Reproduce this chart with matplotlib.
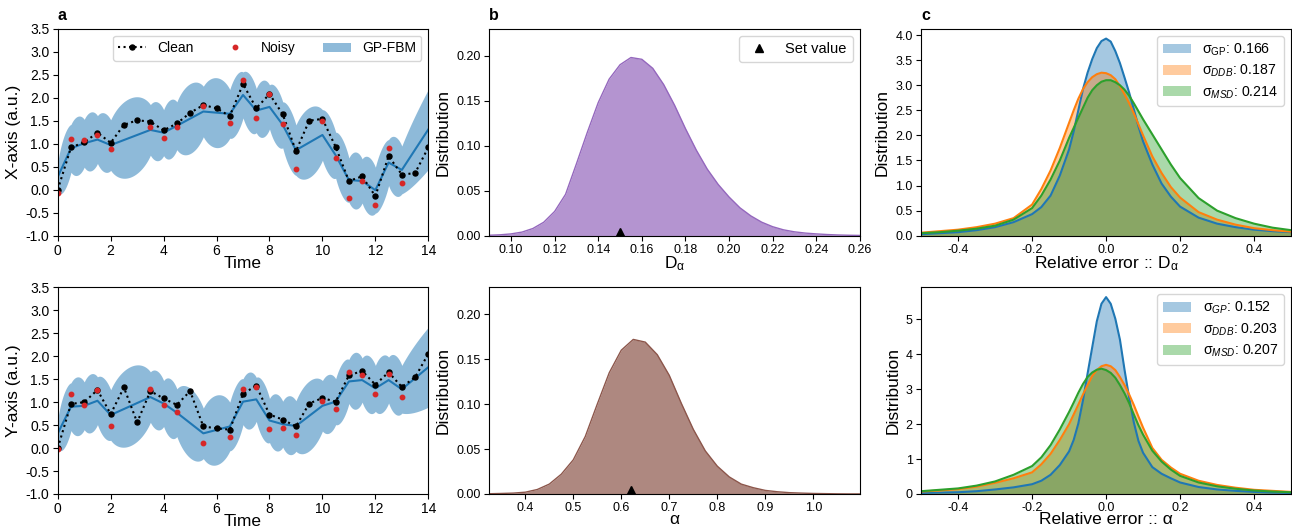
import numpy as np
import matplotlib
matplotlib.use("Agg")
import matplotlib.pyplot as plt
import matplotlib.transforms as mtransforms
from matplotlib.ticker import FormatStrFormatter, MultipleLocator
from matplotlib.patches import Patch

plt.rcParams['font.family'] = ['Liberation Sans', 'DejaVu Sans']
plt.rcParams['mathtext.fontset'] = 'custom'
plt.rcParams['mathtext.rm'] = 'Liberation Sans'
plt.rcParams['mathtext.it'] = 'Liberation Sans:italic'
plt.rcParams['mathtext.bf'] = 'Liberation Sans:bold'

# ---------------- panel a: trajectories ----------------
time_clean = [0, 0.5, 1, 1.5, 2, 2.5, 3, 3.5, 4, 4.5, 5, 5.5, 6, 6.5, 7,
              7.5, 8, 8.5, 9, 9.5, 10, 10.5, 11, 11.5, 12, 12.5, 13, 13.5, 14]
clean_x = [0.00, 0.92, 1.03, 1.24, 1.02, 1.41, 1.51, 1.48, 1.29, 1.44, 1.67, 1.84, 1.77, 1.60, 2.30,
           1.77, 2.08, 1.64, 0.84, 1.50, 1.54, 0.93, 0.19, 0.29, -0.14, 0.73, 0.33, 0.36, 0.92]
clean_y = [0.00, 0.96, 1.00, 1.265, 0.74, 1.32, 0.56, 1.24, 1.08, 0.94, 1.24, 0.47, 0.43, 0.40, 1.18,
           1.36, 0.73, 0.62, 0.47, 0.97, 1.09, 1.01, 1.58, 1.68, 1.38, 1.65, 1.33, 1.54, 2.05]

time_noisy = [0, 0.5, 1, 1.5, 2, 3.5, 4, 4.5, 5.5, 6.5, 7, 7.5, 8, 8.5, 9, 10, 10.5, 11, 11.5, 12, 12.5, 13]
noisy_x = [-0.07, 1.10, 1.08, 1.20, 0.88, 1.37, 1.12, 1.36, 1.83, 1.45, 2.38, 1.56, 2.09, 1.43, 0.46,
           1.50, 0.70, -0.17, 0.20, -0.33, 0.91, 0.145]
noisy_y = [-0.01, 1.18, 0.93, 1.27, 0.48, 1.29, 0.93, 0.78, 0.12, 0.23, 1.29, 1.32, 0.42, 0.44, 0.28,
           1.03, 0.86, 1.66, 1.60, 1.18, 1.61, 1.11]

# GP-FBM prediction knots (noisy times + end of prediction range)
time_gp = [0, 0.5, 1, 1.5, 2, 3.5, 4, 4.5, 5.5, 6.5, 7, 7.5, 8, 8.5, 9, 10, 10.5, 11, 11.5, 12, 12.5, 13, 14]
gp_mean_x = [0.28, 0.90, 1.01, 1.09, 0.97, 1.30, 1.24, 1.39, 1.70, 1.65, 2.06, 1.72, 1.80, 1.41, 0.86,
             1.19, 0.75, 0.21, 0.19, -0.01, 0.59, 0.43, 1.31]
gp_mean_y = [0.32, 0.90, 0.92, 1.03, 0.72, 1.11, 0.97, 0.77, 0.32, 0.47, 1.01, 1.06, 0.60, 0.52, 0.48,
             0.92, 1.01, 1.45, 1.48, 1.30, 1.48, 1.28, 1.76]
# band half-width at the knots and at the middle of each interval
gp_halfwidth = [0.30, 0.52, 0.52, 0.52, 0.55, 0.55, 0.50, 0.52, 0.55, 0.53, 0.50, 0.48, 0.48, 0.50, 0.55,
                0.55, 0.50, 0.48, 0.48, 0.50, 0.50, 0.52, 0.87]
gp_bulge = [0.60, 0.64, 0.64, 0.64, 0.86, 0.64, 0.64, 0.76, 0.76, 0.64, 0.62, 0.62, 0.62, 0.64, 0.76,
            0.64, 0.62, 0.62, 0.62, 0.62, 0.64, 0.74]

# ---------------- panel b: posterior distributions ----------------
d_grid = [0.090, 0.095, 0.100, 0.105, 0.110, 0.115, 0.120, 0.125, 0.130, 0.135, 0.140, 0.145,
          0.150, 0.155, 0.160, 0.165, 0.170, 0.175, 0.180, 0.185, 0.190, 0.195, 0.200, 0.205,
          0.210, 0.215, 0.220, 0.225, 0.230, 0.235, 0.240, 0.245, 0.250, 0.255, 0.260]
d_dist = [0.0005, 0.001, 0.002, 0.004, 0.008, 0.015, 0.027, 0.046, 0.080, 0.115, 0.148, 0.174,
          0.190, 0.198, 0.196, 0.186, 0.168, 0.145, 0.119, 0.095, 0.074, 0.057, 0.043, 0.031,
          0.022, 0.015, 0.010, 0.0065, 0.0043, 0.0029, 0.002, 0.0013, 0.0008, 0.0005, 0.0003]
d_set = 0.15

a_grid = [0.325, 0.350, 0.375, 0.400, 0.425, 0.450, 0.475, 0.500, 0.525, 0.550, 0.575, 0.600,
          0.625, 0.650, 0.675, 0.700, 0.725, 0.750, 0.775, 0.800, 0.825, 0.850, 0.875, 0.900,
          0.925, 0.950, 0.975, 1.000, 1.025, 1.050, 1.075, 1.100]
a_dist = [0.0003, 0.0006, 0.001, 0.002, 0.005, 0.011, 0.022, 0.038, 0.064, 0.100, 0.135, 0.160,
          0.172, 0.169, 0.155, 0.132, 0.101, 0.072, 0.048, 0.031, 0.019, 0.011, 0.007, 0.004,
          0.0025, 0.0015, 0.001, 0.0006, 0.0004, 0.0002, 0.0001, 0.0001]
a_set = 0.62

# ---------------- panel c: relative errors ----------------
err_grid = [-0.5, -0.45, -0.4, -0.35, -0.3, -0.25, -0.2, -0.175, -0.15, -0.125, -0.1, -0.0875,
            -0.075, -0.0625, -0.05, -0.0375, -0.025, -0.0125, 0.0, 0.0125, 0.025, 0.0375, 0.05,
            0.0625, 0.075, 0.0875, 0.1, 0.125, 0.15, 0.175, 0.2, 0.25, 0.3, 0.35, 0.4, 0.45, 0.5]
errD_gp = [0.03, 0.05, 0.07, 0.11, 0.17, 0.27, 0.43, 0.57, 0.80, 1.20, 1.72, 2.08,
           2.50, 2.92, 3.25, 3.52, 3.74, 3.88, 3.93, 3.87, 3.68, 3.44, 3.15,
           2.85, 2.52, 2.18, 1.88, 1.42, 1.04, 0.78, 0.58, 0.36, 0.24, 0.17, 0.12, 0.09, 0.07]
errD_ddb = [0.06, 0.09, 0.12, 0.17, 0.24, 0.35, 0.62, 0.93, 1.30, 1.75, 2.25, 2.50,
            2.73, 2.92, 3.06, 3.16, 3.22, 3.25, 3.24, 3.20, 3.12, 2.98, 2.82,
            2.64, 2.44, 2.22, 2.00, 1.58, 1.25, 0.97, 0.76, 0.47, 0.32, 0.22, 0.15, 0.11, 0.08]
errD_msd = [0.05, 0.07, 0.10, 0.14, 0.20, 0.32, 0.55, 0.80, 1.12, 1.50, 1.95, 2.15,
            2.35, 2.55, 2.75, 2.90, 3.00, 3.07, 3.10, 3.10, 3.06, 3.00, 2.91,
            2.79, 2.64, 2.48, 2.32, 2.02, 1.72, 1.42, 1.15, 0.75, 0.50, 0.35, 0.24, 0.16, 0.11]
errA_gp = [0.03, 0.04, 0.05, 0.08, 0.13, 0.19, 0.28, 0.38, 0.55, 0.83, 1.22, 1.55,
           2.02, 2.68, 3.45, 4.20, 4.95, 5.45, 5.64, 5.45, 5.02, 4.42, 3.55,
           2.75, 2.05, 1.52, 1.18, 0.77, 0.58, 0.45, 0.33, 0.20, 0.13, 0.09, 0.06, 0.04, 0.03]
errA_ddb = [0.07, 0.10, 0.14, 0.21, 0.32, 0.45, 0.62, 0.85, 1.15, 1.55, 2.00, 2.28,
            2.56, 2.85, 3.12, 3.38, 3.55, 3.66, 3.70, 3.66, 3.55, 3.35, 3.12,
            2.85, 2.55, 2.22, 1.90, 1.32, 0.98, 0.76, 0.58, 0.38, 0.26, 0.18, 0.12, 0.09, 0.06]
errA_msd = [0.08, 0.12, 0.16, 0.24, 0.36, 0.55, 0.80, 1.05, 1.40, 1.85, 2.35, 2.62,
            2.90, 3.15, 3.35, 3.48, 3.56, 3.59, 3.55, 3.47, 3.33, 3.12, 2.88,
            2.60, 2.28, 1.97, 1.70, 1.24, 0.93, 0.70, 0.52, 0.33, 0.22, 0.15, 0.10, 0.07, 0.05]
sigma_D = {'GP': 0.166, 'DDB': 0.187, 'MSD': 0.214}
sigma_A = {'GP': 0.152, 'DDB': 0.203, 'MSD': 0.207}

# ---------------- figure ----------------
TICK = 9
LAB = 12.5
fig = plt.figure(figsize=(12.92, 5.28), dpi=100)

W = 0.2868
axA1 = fig.add_axes([0.0447, 0.5536, W, 0.3920])
axA2 = fig.add_axes([0.0447, 0.0644, W, 0.3915])
axB1 = fig.add_axes([0.3787, 0.5536, W, 0.3920])
axB2 = fig.add_axes([0.3787, 0.0644, W, 0.3915])
axC1 = fig.add_axes([0.7129, 0.5536, 0.2864, 0.3920])
axC2 = fig.add_axes([0.7129, 0.0644, 0.2864, 0.3915])


def gp_band(ax, t, mean, hw, bulge, npts=60):
    tt, lo, hi = [], [], []
    for i in range(len(t) - 1):
        s = np.linspace(0, 1, npts)
        m = mean[i] + (mean[i + 1] - mean[i]) * s
        base = hw[i] + (hw[i + 1] - hw[i]) * s
        extra = max(bulge[i] ** 2 - ((hw[i] + hw[i + 1]) / 2) ** 2, 0.0)
        w = np.sqrt(base ** 2 + extra * 4 * s * (1 - s))
        tt.append(t[i] + (t[i + 1] - t[i]) * s)
        lo.append(m - w)
        hi.append(m + w)
    return ax.fill_between(np.concatenate(tt), np.concatenate(lo), np.concatenate(hi),
                           color='C0', alpha=0.5, lw=0)


for ax, clean, noisy, gmean, ylab in [(axA1, clean_x, noisy_x, gp_mean_x, 'X-axis (a.u.)'),
                                      (axA2, clean_y, noisy_y, gp_mean_y, 'Y-axis (a.u.)')]:
    gp_band(ax, time_gp, gmean, gp_halfwidth, gp_bulge)
    ax.plot(time_gp, gmean, color='C0', lw=1.5)
    lc, = ax.plot(time_clean, clean, ls=':', color='k', lw=1.5, marker='o', ms=3.6)
    ln, = ax.plot(time_noisy, noisy, ls='none', marker='o', color='C3', ms=3.2)
    ax.set_xlim(0, 14)
    ax.set_ylim(-1.0, 3.5)
    ax.set_xticks([0, 2, 4, 6, 8, 10, 12, 14])
    ax.set_yticks(np.arange(-1.0, 3.51, 0.5))
    ax.yaxis.set_major_formatter(FormatStrFormatter('%.1f'))
    ax.tick_params(labelsize=10, pad=2.5)
    ax.set_xlabel('Time', fontsize=LAB, labelpad=-1.5)
    ax.set_ylabel(ylab, fontsize=LAB, labelpad=3)
    if ax is axA1:
        ax.legend([lc, ln, Patch(facecolor='C0', alpha=0.5, lw=0)], ['Clean', 'Noisy', 'GP-FBM'],
                  ncol=3, loc='upper right', fontsize=10, columnspacing=2.0)

# panel b
for ax, grid, dist, col, setv, xlab in [(axB1, d_grid, d_dist, 'tab:purple', d_set, r'D$_{\mathregular{α}}$'),
                                        (axB2, a_grid, a_dist, 'tab:brown', a_set, 'α')]:
    ax.fill_between(grid, dist, color=col, alpha=0.7, lw=0)
    ax.plot(grid, dist, color=col, lw=1.0)
    trans = mtransforms.offset_copy(ax.transData, fig=fig, x=0, y=2.6, units='points')
    mk, = ax.plot([setv], [0], '^', color='k', ms=5.2, transform=trans, label='Set value')
    ax.set_ylim(0, 0.23)
    ax.set_yticks([0, 0.05, 0.10, 0.15, 0.20])
    ax.yaxis.set_major_formatter(FormatStrFormatter('%.2f'))
    ax.tick_params(labelsize=TICK, pad=2.5)
    ax.set_ylabel('Distribution', fontsize=LAB)
    ax.set_xlabel(xlab, fontsize=LAB, labelpad=-1.5)
    if ax is axB1:
        ax.legend(handles=[mk], loc='upper right', fontsize=10.5)
axB1.set_xlim(0.09, 0.26)
axB1.set_xticks([0.10, 0.12, 0.14, 0.16, 0.18, 0.20, 0.22, 0.24, 0.26])
axB1.xaxis.set_major_formatter(FormatStrFormatter('%.2f'))
axB2.set_xlim(0.325, 1.097)
axB2.set_xticks([0.4, 0.5, 0.6, 0.7, 0.8, 0.9, 1.0])
axB2.xaxis.set_major_formatter(FormatStrFormatter('%.1f'))

# panel c
for ax, curves, sig, xlab, gp_lab in [
        (axC1, [errD_gp, errD_ddb, errD_msd], sigma_D, r'Relative error :: D$_{\mathregular{α}}$',
         r'σ$_{\mathregular{GP}}$'),
        (axC2, [errA_gp, errA_ddb, errA_msd], sigma_A, 'Relative error :: α', r'σ$_{GP}$')]:
    labels = [gp_lab + ': %.3f' % sig['GP'],
              r'σ$_{DDB}$' + ': %.3f' % sig['DDB'],
              r'σ$_{MSD}$' + ': %.3f' % sig['MSD']]
    hs = []
    for vals, col, lab in zip(curves, ['C0', 'C1', 'C2'], labels):
        h = ax.fill_between(err_grid, vals, color=col, alpha=0.4, lw=0, label=lab)
        ax.plot(err_grid, vals, color=col, lw=1.5)
        hs.append(h)
    ax.set_xlim(-0.5, 0.5)
    ax.set_ylim(0, max(max(c) for c in curves) * 1.05)
    ax.set_xticks([-0.4, -0.2, 0.0, 0.2, 0.4])
    ax.xaxis.set_major_formatter(FormatStrFormatter('%.1f'))
    ax.tick_params(labelsize=TICK, pad=2.5)
    ax.set_xlabel(xlab, fontsize=LAB, labelpad=-1.5)
    ax.set_ylabel('Distribution', fontsize=LAB)
    ax.legend(handles=hs, loc='upper right', fontsize=10.2, labelspacing=0.35)
axC1.yaxis.set_major_locator(MultipleLocator(0.5))
axC1.yaxis.set_major_formatter(FormatStrFormatter('%.1f'))
axC2.yaxis.set_major_locator(MultipleLocator(1))

for ax, letter in [(axA1, 'a'), (axB1, 'b'), (axC1, 'c')]:
    ax.text(0.0, 1.03, letter, transform=ax.transAxes, fontsize=11.5, fontweight='bold',
            ha='left', va='bottom')

fig.savefig('out.png', dpi=100)
